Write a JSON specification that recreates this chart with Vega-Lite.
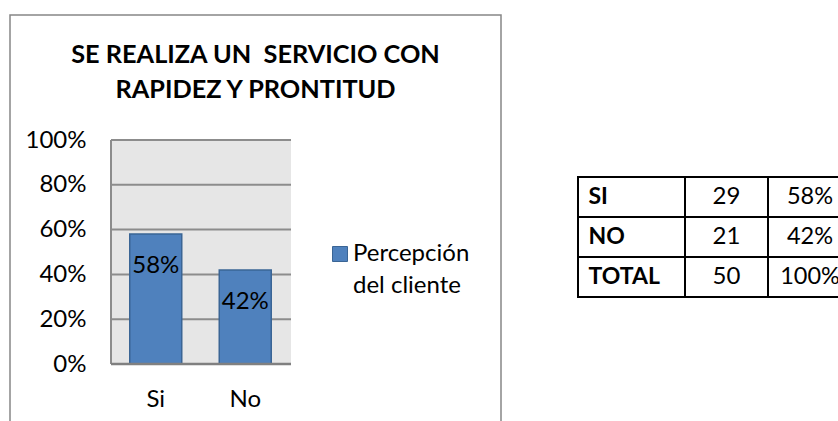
{
  "$schema": "https://vega.github.io/schema/vega-lite/v6.json",
  "padding": {"left": 9, "top": 14, "right": 0, "bottom": 0},
  "background": "white",
  "config": {"font": "Lato", "view": {"stroke": null}, "text": {"color": "black"}, "style": {"guide-label": {"lineHeight": 32}}},
  "datasets": {
    "respuestas": [
      {"respuesta": "Si", "pct": 0.58, "serie": "Percepción del cliente"},
      {"respuesta": "No", "pct": 0.42, "serie": "Percepción del cliente"}
    ],
    "rejilla": [{"v": 0.2}, {"v": 0.4}, {"v": 0.6}, {"v": 0.8}, {"v": 1.0}],
    "uno": [{"k": 1}],
    "tabla": [
      {"fila": 1, "etiqueta": "SI", "n": 29, "pct": 0.58},
      {"fila": 2, "etiqueta": "NO", "n": 21, "pct": 0.42},
      {"fila": 3, "etiqueta": "TOTAL", "n": 50, "pct": 1.0}
    ]
  },
  "spacing": 77,
  "bounds": "flush",
  "resolve": {"scale": {"color": "independent"}, "legend": {"color": "independent"}},
  "hconcat": [
    {
      "width": 491,
      "height": 420,
      "view": {"stroke": "#868686", "strokeWidth": 1.5, "fill": "white"},
      "title": {
        "text": ["SE REALIZA UN \u00a0SERVICIO CON", "RAPIDEZ Y PRONTITUD"],
        "font": "Lato", "fontSize": 25.3, "fontWeight": "bold", "color": "black",
        "anchor": "middle", "frame": "group", "baseline": "top", "offset": -88, "lineHeight": 35
      },
      "resolve": {"scale": {"x": "independent"}, "axis": {"y": "independent", "x": "independent"}},
      "layer": [
        {
          "data": {"name": "uno"},
          "mark": {"type": "rect", "fill": "#e6e6e6"},
          "encoding": {
            "x": {"datum": 0, "type": "quantitative", "scale": {"domain": [0, 1], "range": [101, 281]}, "axis": null},
            "x2": {"datum": 1},
            "y": {"datum": 0, "type": "quantitative", "scale": {"domain": [0, 1], "range": [349, 125], "nice": false, "zero": false}, "axis": null},
            "y2": {"datum": 1}
          }
        },
        {
          "data": {"name": "rejilla"},
          "mark": {"type": "rule", "stroke": "#8c8c8c", "strokeWidth": 2},
          "encoding": {
            "x": {"datum": 0, "type": "quantitative", "scale": {"domain": [0, 1], "range": [101, 281]}, "axis": null},
            "x2": {"datum": 1},
            "y": {"field": "v", "type": "quantitative", "scale": {"domain": [0, 1], "range": [349, 125], "nice": false, "zero": false}, "axis": null}
          }
        },
        {
          "data": {"name": "uno"},
          "mark": {"type": "rule", "stroke": "#8c8c8c", "strokeWidth": 2},
          "encoding": {
            "x": {"datum": 0, "type": "quantitative", "scale": {"domain": [0, 1], "range": [101, 281]}, "axis": null},
            "y": {"datum": 0, "type": "quantitative", "scale": {"domain": [0, 1], "range": [349, 125], "nice": false, "zero": false}, "axis": null},
            "y2": {"datum": 1}
          }
        },
        {
          "data": {"name": "respuestas"},
          "mark": {"type": "bar", "stroke": "#3a6595", "strokeWidth": 1.5},
          "encoding": {
            "x": {
              "field": "respuesta", "type": "nominal",
              "scale": {"domain": ["Si", "No"], "range": [101, 280], "paddingInner": 0.419, "paddingOuter": 0.2095},
              "axis": {"orient": "bottom", "offset": -71, "labelPadding": 35, "labelBaseline": "middle", "ticks": false, "domain": false, "grid": false, "labelFontSize": 24, "labelColor": "black", "labelAngle": 0, "title": null}
            },
            "y": {
              "field": "pct", "type": "quantitative",
              "scale": {"domain": [0, 1], "range": [349, 125], "nice": false, "zero": false},
              "axis": {"values": [0, 0.2, 0.4, 0.6, 0.8, 1], "format": ".0%", "offset": -76, "labelPadding": 0, "ticks": false, "domain": false, "grid": false, "labelFontSize": 24, "labelColor": "black", "labelFlush": false, "title": null}
            },
            "color": {
              "field": "serie", "type": "nominal",
              "scale": {"range": ["#4f81bd"]},
              "legend": {
                "orient": "none", "legendX": 318, "legendY": 227, "title": null, "padding": 0,
                "symbolType": "square", "symbolSize": 225, "symbolStrokeColor": "#3a6595", "symbolStrokeWidth": 1,
                "labelFontSize": 24, "labelColor": "black", "labelOffset": 1, "labelLimit": 300,
                "labelExpr": "['Percepción', 'del cliente']"
              }
            }
          }
        },
        {
          "data": {"name": "respuestas"},
          "mark": {"type": "text", "baseline": "middle", "dy": 32, "fontSize": 24, "color": "black"},
          "encoding": {
            "x": {
              "field": "respuesta", "type": "nominal",
              "scale": {"domain": ["Si", "No"], "range": [101, 280], "paddingInner": 0.419, "paddingOuter": 0.2095},
              "axis": null
            },
            "y": {"field": "pct", "type": "quantitative", "scale": {"domain": [0, 1], "range": [349, 125], "nice": false, "zero": false}, "axis": null},
            "text": {"field": "pct", "type": "quantitative", "format": ".0%"}
          }
        },
        {
          "data": {"name": "uno"},
          "mark": {"type": "rule", "stroke": "#808080", "strokeWidth": 2.5},
          "encoding": {
            "x": {"datum": 0, "type": "quantitative", "scale": {"domain": [0, 1], "range": [101, 281]}, "axis": null},
            "x2": {"datum": 1},
            "y": {"datum": 0, "type": "quantitative", "scale": {"domain": [0, 1], "range": [349, 125], "nice": false, "zero": false}, "axis": null}
          }
        }
      ]
    },
    {
      "spacing": 0,
      "bounds": "flush",
      "hconcat": [
        {
          "width": 107, "height": 282,
          "data": {"name": "tabla"},
          "layer": [
            {
              "mark": {"type": "rect", "fill": "white", "stroke": "black", "strokeWidth": 2},
              "encoding": {"y": {"field": "fila", "type": "ordinal", "scale": {"domain": [1, 2, 3], "range": [162, 282], "paddingInner": 0, "paddingOuter": 0}, "axis": null}}
            },
            {
              "mark": {"type": "text", "align": "left", "dx": -43, "fontSize": 23, "fontWeight": "bold", "color": "black"},
              "encoding": {
                "y": {"field": "fila", "type": "ordinal", "scale": {"domain": [1, 2, 3], "range": [162, 282], "paddingInner": 0, "paddingOuter": 0}, "axis": null},
                "text": {"field": "etiqueta"}
              }
            }
          ]
        },
        {
          "width": 83, "height": 282,
          "data": {"name": "tabla"},
          "layer": [
            {
              "mark": {"type": "rect", "fill": "white", "stroke": "black", "strokeWidth": 2},
              "encoding": {"y": {"field": "fila", "type": "ordinal", "scale": {"domain": [1, 2, 3], "range": [162, 282], "paddingInner": 0, "paddingOuter": 0}, "axis": null}}
            },
            {
              "mark": {"type": "text", "align": "center", "fontSize": 24, "color": "black"},
              "encoding": {
                "y": {"field": "fila", "type": "ordinal", "scale": {"domain": [1, 2, 3], "range": [162, 282], "paddingInner": 0, "paddingOuter": 0}, "axis": null},
                "text": {"field": "n", "type": "quantitative"}
              }
            }
          ]
        },
        {
          "width": 84, "height": 282,
          "data": {"name": "tabla"},
          "layer": [
            {
              "mark": {"type": "rect", "fill": "white", "stroke": "black", "strokeWidth": 2},
              "encoding": {"y": {"field": "fila", "type": "ordinal", "scale": {"domain": [1, 2, 3], "range": [162, 282], "paddingInner": 0, "paddingOuter": 0}, "axis": null}}
            },
            {
              "mark": {"type": "text", "align": "center", "fontSize": 23.5, "color": "black"},
              "encoding": {
                "y": {"field": "fila", "type": "ordinal", "scale": {"domain": [1, 2, 3], "range": [162, 282], "paddingInner": 0, "paddingOuter": 0}, "axis": null},
                "text": {"field": "pct", "type": "quantitative", "format": ".0%"}
              }
            }
          ]
        }
      ]
    }
  ]
}
